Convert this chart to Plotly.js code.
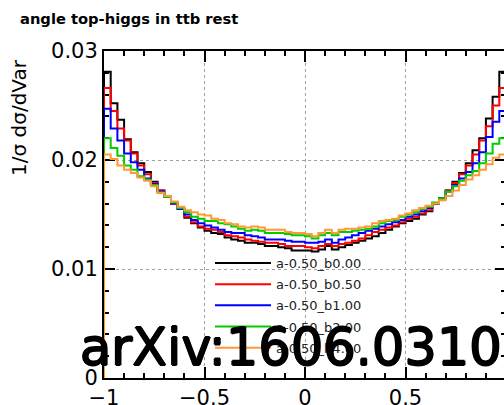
<!DOCTYPE html>
<html><head><meta charset="utf-8">
<script src="https://cdn.plot.ly/plotly-3.0.1.min.js"></script>
<style>html,body{margin:0;padding:0;overflow:hidden;background:#fff;width:504px;height:405px}#chart{width:506px;height:405px}</style>
</head><body><div id="chart"></div>
<script>
// histogram binning
const binLow = -1, binHigh = 1;
const seriesNames = ['a-0.50_b0.00', 'a-0.50_b0.50', 'a-0.50_b1.00', 'a-0.50_b2.00', 'a-0.50_b4.00'];
const seriesColors = ['#000000', '#ff0000', '#0000ff', '#00cc00', '#ff9933'];
const xTickVals = [-1, -0.5, 0, 0.5, 1];
const yTickVals = [0, 0.01, 0.02, 0.03];

const b000 = [.0281,.0252,.0237,.0219,.0207,.0197,.0189,.0180,.0172,.0166,
  .0160,.0155,.0147,.0142,.0138,.0135,.0133,.0132,.0129,.0127,
  .0126,.0124,.0124,.0123,.0121,.0121,.0120,.0119,.0117,.0117,
  .0117,.0116,.0118,.0121,.0118,.0120,.0122,.0124,.0126,.0128,
  .0130,.0133,.0136,.0139,.0142,.0144,.0146,.0150,.0153,.0160,
  .0165,.0172,.0180,.0188,.0197,.0209,.0220,.0238,.0258,.0281];
const b050 = [.0266,.0245,.0229,.0218,.0206,.0195,.0187,.0179,.0172,.0166,
  .0160,.0155,.0148,.0143,.0139,.0137,.0136,.0134,.0131,.0130,
  .0129,.0127,.0126,.0125,.0124,.0124,.0123,.0121,.0121,.0121,
  .0120,.0119,.0121,.0123,.0121,.0123,.0124,.0126,.0128,.0131,
  .0134,.0136,.0138,.0140,.0143,.0146,.0148,.0151,.0154,.0160,
  .0165,.0172,.0179,.0187,.0195,.0205,.0218,.0231,.0250,.0266];
const b100 = [.0247,.0229,.0218,.0206,.0198,.0191,.0183,.0178,.0171,.0166,
  .0160,.0155,.0150,.0145,.0142,.0140,.0138,.0136,.0134,.0133,
  .0133,.0131,.0130,.0129,.0127,.0127,.0127,.0126,.0125,.0125,
  .0124,.0124,.0125,.0127,.0124,.0127,.0129,.0131,.0133,.0135,
  .0137,.0139,.0141,.0143,.0145,.0148,.0150,.0153,.0156,.0160,
  .0165,.0171,.0177,.0183,.0189,.0197,.0207,.0221,.0235,.0245];
const b200 = [.0220,.0211,.0204,.0195,.0191,.0185,.0182,.0177,.0170,.0166,
  .0161,.0156,.0152,.0148,.0146,.0144,.0144,.0142,.0141,.0139,
  .0137,.0135,.0136,.0135,.0133,.0133,.0133,.0132,.0131,.0131,
  .0130,.0128,.0131,.0133,.0131,.0134,.0134,.0135,.0136,.0137,
  .0139,.0142,.0144,.0145,.0148,.0150,.0152,.0155,.0157,.0161,
  .0165,.0171,.0176,.0181,.0186,.0190,.0197,.0206,.0215,.0220];
const b400 = [.0205,.0201,.0195,.0191,.0188,.0184,.0181,.0176,.0170,.0167,
  .0162,.0157,.0154,.0152,.0150,.0149,.0146,.0145,.0142,.0141,
  .0139,.0138,.0139,.0138,.0136,.0136,.0136,.0134,.0133,.0133,
  .0132,.0130,.0133,.0136,.0133,.0136,.0137,.0137,.0138,.0139,
  .0142,.0144,.0145,.0146,.0149,.0151,.0154,.0156,.0158,.0160,
  .0163,.0167,.0172,.0177,.0182,.0186,.0191,.0196,.0202,.0205];
const seriesValues = [b000, b050, b100, b200, b400];

function histXY(vals) {
  const w = (binHigh - binLow) / vals.length;
  const xs = [binLow], ys = [0];
  for (let i = 0; i < vals.length; i++) { xs.push(binLow + i * w); ys.push(vals[i]); }
  xs.push(binHigh); ys.push(vals[vals.length - 1]);
  xs.push(binHigh); ys.push(0);
  return {xs, ys};
}

const FONT = 'DejaVu Sans, Liberation Sans, Arial, sans-serif';
const traces = seriesValues.map((vals, k) => {
  const h = histXY(vals);
  return {
    x: h.xs, y: h.ys, type: 'scatter', mode: 'lines', name: seriesNames[k],
    legendgroup: 'g' + k,
    line: {color: seriesColors[k], width: 2, shape: 'hv', simplify: false},
    hoverinfo: 'skip'
  };
});
// empty helper trace that carries the y-axis title (placed at the top of the axis, ROOT style)
traces.push({x: [], y: [], xaxis: 'x2', yaxis: 'y2', type: 'scatter', mode: 'lines',
  showlegend: false, hoverinfo: 'skip'});

const axisCommon = {
  showline: true, linecolor: '#000', linewidth: 2, mirror: 'allticks',
  ticks: 'inside', ticklen: 11, tickwidth: 2, tickcolor: '#000',
  showgrid: true, gridcolor: '#a0a0a0', gridwidth: 1, griddash: 'dot',
  zeroline: false, layer: 'below traces',
  tickfont: {family: FONT, size: 21, color: '#000'}
};

const PW = 402, PH = 327;
const layout = {
  width: 506, height: 405,
  margin: {l: 104, r: 0, t: 51, b: 27, pad: 0},
  paper_bgcolor: '#fff', plot_bgcolor: 'rgba(0,0,0,0)',
  showlegend: true,
  title: {text: '<b>angle top-higgs in ttb rest</b>', xref: 'container', yref: 'container',
    x: 20 / 506, xanchor: 'left', y: 1 - 19 / 405, yanchor: 'middle',
    font: {family: FONT, size: 14.7, color: '#000'}},
  xaxis: Object.assign({}, axisCommon, {
    range: [binLow, binHigh], tickvals: xTickVals,
    minor: {dtick: 0.1, tick0: 0, ticks: 'inside', ticklen: 5, tickwidth: 2, tickcolor: '#000', showgrid: false}
  }),
  yaxis: Object.assign({}, axisCommon, {
    range: [0, 0.03], tickvals: yTickVals,
    minor: {dtick: 0.002, tick0: 0, ticks: 'inside', ticklen: 5, tickwidth: 2, tickcolor: '#000', showgrid: false}
  }),
  xaxis2: {domain: [0, 1], anchor: 'y2', visible: false, range: [0, 1]},
  yaxis2: {domain: [(378 - 178) / PH, (378 - 58) / PH], anchor: 'x2', range: [0, 1],
    showline: false, ticks: '', showticklabels: false, showgrid: false, zeroline: false,
    automargin: false,
    title: {text: '1/σ dσ/dVar', standoff: 71, font: {family: FONT, size: 20, color: '#000'}}},
  legend: {
    x: (210 - 104) / PW, xanchor: 'left', y: (378 - 248) / PH, yanchor: 'top',
    bgcolor: 'rgba(0,0,0,0)', borderwidth: 0, itemwidth: 56, tracegroupgap: 1.3,
    font: {family: FONT, size: 13, color: '#222'}
  },
  annotations: [
    {text: 'arXiv:1606.03107', xref: 'paper', yref: 'paper', x: (78 - 104) / PW, y: (378 - 347) / PH,
      xanchor: 'left', yanchor: 'middle', showarrow: false,
      font: {family: FONT, size: 51, color: '#000',
        shadow: '0.9px 0 0 #000, -0.9px 0 0 #000, 0 0.6px 0 #000, 0 -0.6px 0 #000'}}
  ]
};

Plotly.newPlot('chart', traces, layout, {displayModeBar: false, staticPlot: true});
</script>
</body></html>
